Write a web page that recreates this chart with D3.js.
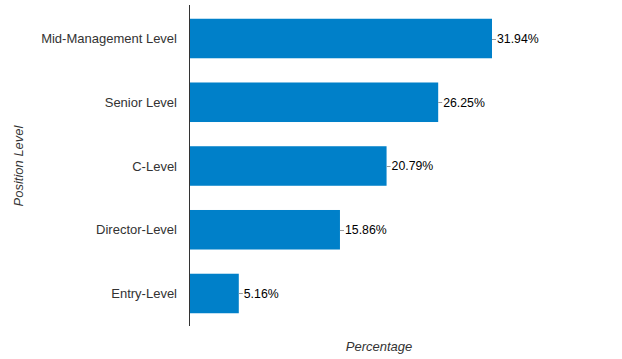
<!DOCTYPE html>
<html><head><meta charset="utf-8">
<script src="https://cdn.jsdelivr.net/npm/d3@7"></script>
<style>body{margin:0;background:#fff;}svg{display:block;font-family:"Liberation Sans",Arial,sans-serif;}</style>
</head><body><svg id="c" width="622" height="359"></svg>
<script>
const categories = ["Mid-Management Level","Senior Level","C-Level","Director-Level","Entry-Level"];
const values = [31.94, 26.25, 20.79, 15.86, 5.16];
const svg = d3.select("#c");
const x = d3.scaleLinear().domain([0, 35]).range([189, 189 + 35*9.455]);
const y = d3.scaleBand().domain(categories).range([6, 326]).paddingInner(0.38).paddingOuter(0.2);
svg.append("line").attr("x1",189.5).attr("x2",189.5).attr("y1",5).attr("y2",326).attr("stroke","#333").attr("stroke-width",1);
const g = svg.append("g");
categories.forEach((c,i)=>{
  const v = values[i];
  g.append("rect").attr("x",x(0)+1).attr("y",y(c)).attr("width",x(v)-x(0)).attr("height",y.bandwidth()).attr("fill","#0080C9");
  const cy = y(c)+y.bandwidth()/2;
  g.append("line").attr("x1",x(v)+1).attr("x2",x(v)+5).attr("y1",Math.round(cy)+0.5).attr("y2",Math.round(cy)+0.5).attr("stroke","#999");
  g.append("text").attr("x",x(v)+6).attr("y",cy).attr("dy","0.35em").attr("font-size",12.3).attr("fill","#000").text(v.toFixed(2)+"%");
  g.append("text").attr("x",177).attr("y",cy).attr("dy","0.35em").attr("text-anchor","end").attr("font-size",13).attr("fill","#333").text(c);
});
svg.append("text").attr("transform","translate(23,166) rotate(-90)").attr("text-anchor","middle").attr("font-size",13).attr("font-style","italic").attr("fill","#333").text("Position Level");
svg.append("text").attr("x",379).attr("y",351).attr("text-anchor","middle").attr("font-size",13).attr("font-style","italic").attr("fill","#333").text("Percentage");
</script></body></html>
